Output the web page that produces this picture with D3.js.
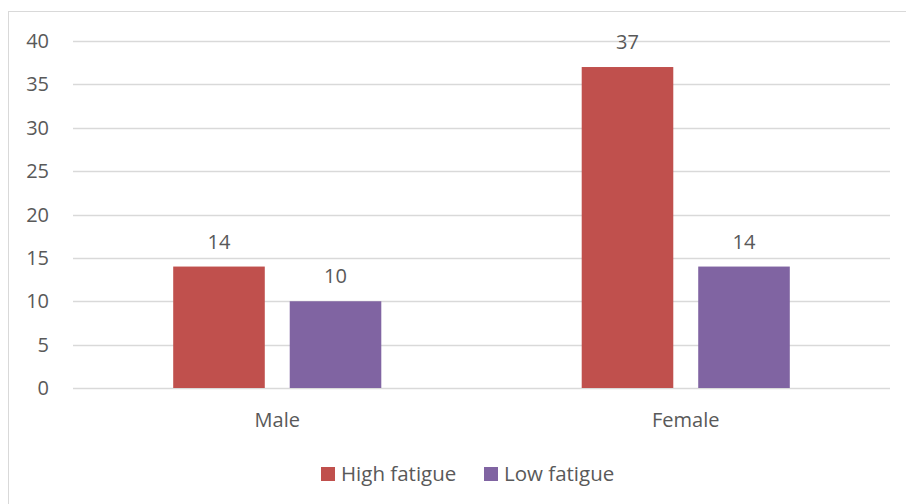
<!DOCTYPE html>
<html>
<head>
<meta charset="utf-8">
<script src="https://cdn.jsdelivr.net/npm/d3@7"></script>
<style>
  body { margin: 0; background: #fff; }
  text { font-family: "Open Sans", sans-serif; fill: #595959; }
</style>
</head>
<body>
<div class="chart"></div>
<script>
let categories = ["Male", "Female"];
let seriesNames = ["High fatigue", "Low fatigue"];
let highFatigue = [14, 37];
let lowFatigue = [10, 14];
let yTicks = [0, 5, 10, 15, 20, 25, 30, 35, 40];
let colors = ["#C0504D", "#8064A2"];

let margin = {top: 41, right: 16, bottom: 116, left: 73},
    width = 906 - margin.left - margin.right,
    height = 504 - margin.top - margin.bottom;

let svg = d3.select(".chart")
  .append("svg")
    .attr("width", 906)
    .attr("height", 504);

// outer frame (right/bottom edges fall off the picture)
svg.append("rect")
  .attr("x", 8.5).attr("y", 11.5)
  .attr("width", 1000).attr("height", 1000)
  .attr("fill", "none")
  .attr("stroke", "#d9d9d9");

let g = svg.append("g")
  .attr("transform", "translate(" + margin.left + "," + margin.top + ")");

let yScale = d3.scaleLinear().domain([0, 40]).range([height, 0]);

let x0 = d3.scaleBand().domain(categories).range([0, width]).padding(0);
let x1 = d3.scaleBand().domain(seriesNames)
  .range([0, x0.bandwidth()])
  .paddingInner(0.214)
  .paddingOuter(0.86);

// gridlines
g.selectAll(".grid").data(yTicks).enter()
  .append("line")
    .attr("x1", 0).attr("x2", width)
    .attr("y1", d => Math.round(yScale(d)) + 0.5)
    .attr("y2", d => Math.round(yScale(d)) + 0.5)
    .attr("stroke", "#d9d9d9")
    .attr("stroke-width", 1.3);

// y labels
g.selectAll(".ylab").data(yTicks).enter()
  .append("text")
    .attr("x", -24)
    .attr("y", d => yScale(d))
    .attr("dy", "0.35em")
    .attr("text-anchor", "end")
    .style("font-size", "20px")
    .text(d => d);

let rows = [];
categories.forEach(function(c, i){
  rows.push({cat: c, series: seriesNames[0], value: highFatigue[i], color: colors[0]});
  rows.push({cat: c, series: seriesNames[1], value: lowFatigue[i], color: colors[1]});
});

g.selectAll(".bar").data(rows).enter()
  .append("rect")
    .attr("x", d => x0(d.cat) + x1(d.series))
    .attr("y", d => yScale(d.value))
    .attr("width", x1.bandwidth())
    .attr("height", d => yScale(0) - yScale(d.value))
    .attr("fill", d => d.color);

g.selectAll(".vlab").data(rows).enter()
  .append("text")
    .attr("x", d => x0(d.cat) + x1(d.series) + x1.bandwidth() / 2)
    .attr("y", d => yScale(d.value) - 25)
    .attr("dy", "0.35em")
    .attr("text-anchor", "middle")
    .style("font-size", "20px")
    .text(d => d.value);

// category labels
g.selectAll(".xlab").data(categories).enter()
  .append("text")
    .attr("x", d => x0(d) + x0.bandwidth() / 2)
    .attr("y", height + 32)
    .attr("dy", "0.35em")
    .attr("text-anchor", "middle")
    .style("font-size", "20px")
    .text(d => d);

// legend
let legend = svg.append("g").attr("transform", "translate(321,467)");
let legX = [0, 163];
seriesNames.forEach(function(s, i){
  let item = legend.append("g").attr("transform", "translate(" + legX[i] + ",0)");
  item.append("rect").attr("width", 14).attr("height", 14).attr("fill", colors[i]);
  item.append("text")
    .attr("x", 20).attr("y", 7).attr("dy", "0.35em")
    .style("font-size", "20.5px")
    .text(s);
});
</script>
</body>
</html>
